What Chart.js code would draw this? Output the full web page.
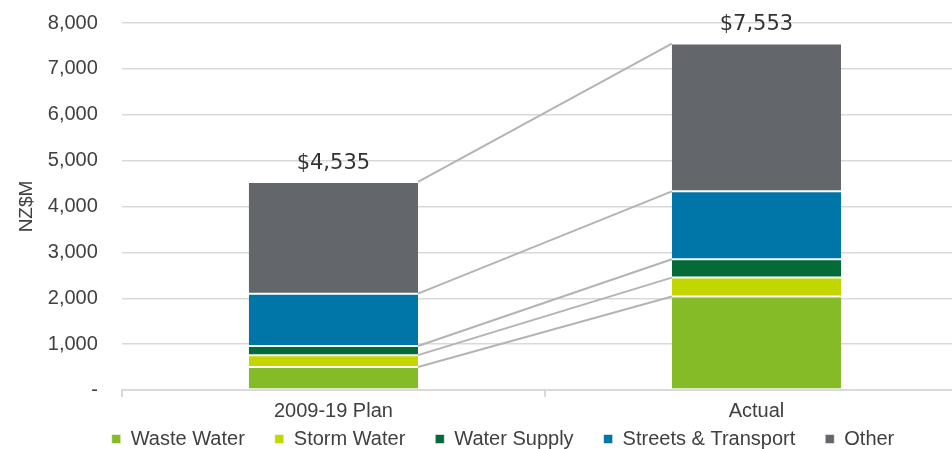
<!DOCTYPE html>
<html>
<head>
<meta charset="utf-8">
<script src="https://cdn.jsdelivr.net/npm/chart.js@4"></script>
<style>
  html, body { margin: 0; padding: 0; background: #fff; overflow: hidden; }
  #wrap { width: 970px; height: 449px; }
</style>
</head>
<body>
<div id="wrap"><canvas id="chart"></canvas></div>
<script>
// values in NZ$M
const categories = ['2009-19 Plan', 'Actual'];
const wasteWater = [500, 2040];
const stormWater = [260, 410];
const waterSupply = [200, 400];
const streetsTransport = [1140, 1480];
const other = [2435, 3223];
const totals = [4535, 7553];
const yTicks = [0, 1000, 2000, 3000, 4000, 5000, 6000, 7000, 8000];

const textColor = '#404040';
const font = '"Liberation Sans", Arial, sans-serif';

// grey lines joining the segment tops of the two bars
const connectors = {
    id: 'connectors',
    beforeDatasetsDraw(chart) {
        const ctx = chart.ctx;
        ctx.save();
        ctx.strokeStyle = '#b4b4b4';
        ctx.lineWidth = 2;
        chart.data.datasets.forEach((ds, i) => {
            const bars = chart.getDatasetMeta(i).data;
            const a = bars[0], b = bars[1];
            ctx.beginPath();
            ctx.moveTo(a.x + a.width / 2, a.y);
            ctx.lineTo(b.x - b.width / 2, b.y);
            ctx.stroke();
        });
        ctx.restore();
    }
};

// total labels above each stack
const totalLabels = {
    id: 'totalLabels',
    afterDatasetsDraw(chart) {
        const ctx = chart.ctx;
        const last = chart.getDatasetMeta(chart.data.datasets.length - 1).data;
        ctx.save();
        ctx.fillStyle = '#333333';
        ctx.font = '21px "DejaVu Sans", Verdana, sans-serif';
        ctx.textAlign = 'center';
        ctx.textBaseline = 'bottom';
        totals.forEach((t, i) => {
            ctx.fillText('$' + t.toLocaleString('en-US'), last[i].x, last[i].y - 8);
        });
        ctx.restore();
    }
};

// legend sits a bit right of centre and close under the axis labels
const legendShift = {
    id: 'legendShift',
    afterLayout(chart) {
        const lg = chart.legend;
        lg.left += 14;
        lg.right += 14;
        lg.top -= 26;
        lg.bottom = chart.height;
    }
};

const makeSet = (label, data, color) => ({
    label: label,
    data: data,
    backgroundColor: color,
    borderColor: '#ffffff',
    borderWidth: { top: 1, bottom: 1, left: 0, right: 0 },
    borderSkipped: false,
    barPercentage: 0.4,
    categoryPercentage: 1
});

new Chart(document.getElementById('chart'), {
    type: 'bar',
    data: {
        labels: categories,
        datasets: [
            makeSet('Waste Water', wasteWater, '#84bb26'),
            makeSet('Storm Water', stormWater, '#c4d600'),
            makeSet('Water Supply', waterSupply, '#046a38'),
            makeSet('Streets & Transport', streetsTransport, '#0076a8'),
            makeSet('Other', other, '#63666a')
        ]
    },
    options: {
        responsive: true,
        maintainAspectRatio: false,
        animation: false,
        layout: { padding: { top: 23, left: 10, right: 2, bottom: 0 } },
        plugins: {
            legend: {
                position: 'bottom',
                maxHeight: 24,
                labels: {
                    color: textColor,
                    font: { family: font, size: 20 },
                    boxWidth: 9,
                    boxHeight: 9,
                    padding: 30
                }
            },
            tooltip: { enabled: false }
        },
        scales: {
            x: {
                stacked: true,
                offset: true,
                border: { display: true, color: '#d9d9d9', width: 2 },
                grid: {
                    offset: true,
                    drawOnChartArea: false,
                    drawTicks: true,
                    tickLength: 7,
                    color: '#d9d9d9',
                    lineWidth: 2
                },
                ticks: {
                    color: textColor,
                    font: { family: font, size: 20 },
                    padding: 2,
                    autoSkip: false,
                    maxRotation: 0
                }
            },
            y: {
                stacked: true,
                min: 0,
                max: 8000,
                afterBuildTicks: (axis) => { axis.ticks = yTicks.map(v => ({ value: v })); },
                border: { display: false },
                grid: {
                    color: '#d9d9d9',
                    lineWidth: 1.5,
                    drawTicks: true,
                    tickLength: 20,
                    tickColor: 'rgba(0,0,0,0)'
                },
                ticks: {
                    color: textColor,
                    font: { family: font, size: 20 },
                    padding: 4,
                    callback: (v) => v === 0 ? '-' : v.toLocaleString('en-US')
                },
                title: {
                    display: true,
                    text: 'NZ$M',
                    color: textColor,
                    font: { family: font, size: 19 },
                    padding: { top: 5, bottom: 6 }
                }
            }
        }
    },
    plugins: [connectors, totalLabels, legendShift]
});
</script>
</body>
</html>
